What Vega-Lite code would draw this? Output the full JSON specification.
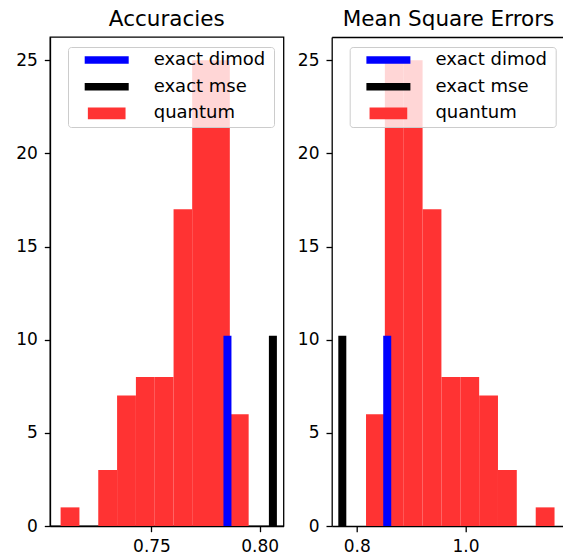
{
  "$schema": "https://vega.github.io/schema/vega-lite/v6.json",
  "autosize": {"type": "none"},
  "padding": {"left": 50, "top": 37, "right": 513, "bottom": 519},
  "background": "white",
  "config": {
    "font": "DejaVu Sans",
    "view": {"stroke": "black", "strokeWidth": 1.3},
    "axis": {"grid": false, "domainColor": "black", "domainWidth": 1.3, "tickColor": "black", "tickWidth": 1.3, "tickSize": 5.7, "labelFont": "DejaVu Sans", "labelFontSize": 17, "labelColor": "black", "labelPadding": 7},
    "title": {"font": "DejaVu Sans", "fontSize": 21.5, "fontWeight": "normal", "color": "black", "anchor": "middle", "baseline": "alphabetic", "offset": 7},
    "legend": {"orient": "top-right", "offset": 10, "padding": 4, "rowPadding": 8.7, "fillColor": "rgba(255,255,255,0.8)", "strokeColor": "#cccccc", "cornerRadius": 3, "labelFont": "DejaVu Sans", "labelFontSize": 18, "labelColor": "black", "labelOffset": 38, "labelLimit": 300, "symbolSize": 16, "symbolStrokeWidth": 0, "symbolOffset": 25.7, "symbolType": "M-11,-1.85H11V1.85H-11Z", "titleOrient": "right", "titleFontSize": 1, "titleOpacity": 0, "titlePadding": 5}
  },
  "datasets": {
    "acc_hist": [
      {"series": "quantum", "bin_start": 0.7080, "bin_end": 0.7167, "count": 1},
      {"series": "quantum", "bin_start": 0.7167, "bin_end": 0.7254, "count": 0},
      {"series": "quantum", "bin_start": 0.7254, "bin_end": 0.7341, "count": 3},
      {"series": "quantum", "bin_start": 0.7341, "bin_end": 0.7428, "count": 7},
      {"series": "quantum", "bin_start": 0.7428, "bin_end": 0.7515, "count": 8},
      {"series": "quantum", "bin_start": 0.7515, "bin_end": 0.7602, "count": 8},
      {"series": "quantum", "bin_start": 0.7602, "bin_end": 0.7688, "count": 17},
      {"series": "quantum", "bin_start": 0.7688, "bin_end": 0.7775, "count": 25},
      {"series": "quantum", "bin_start": 0.7775, "bin_end": 0.7862, "count": 25},
      {"series": "quantum", "bin_start": 0.7862, "bin_end": 0.7949, "count": 6}
    ],
    "acc_exact": [
      {"series": "exact dimod", "value": 0.7851, "y_start": 0, "y_end": 10},
      {"series": "exact mse", "value": 0.8061, "y_start": 0, "y_end": 10}
    ],
    "mse_hist": [
      {"series": "quantum", "bin_start": 0.8171, "bin_end": 0.8517, "count": 6},
      {"series": "quantum", "bin_start": 0.8517, "bin_end": 0.8865, "count": 25},
      {"series": "quantum", "bin_start": 0.8865, "bin_end": 0.9211, "count": 25},
      {"series": "quantum", "bin_start": 0.9211, "bin_end": 0.9557, "count": 17},
      {"series": "quantum", "bin_start": 0.9557, "bin_end": 0.9905, "count": 8},
      {"series": "quantum", "bin_start": 0.9905, "bin_end": 1.0251, "count": 8},
      {"series": "quantum", "bin_start": 1.0251, "bin_end": 1.0597, "count": 7},
      {"series": "quantum", "bin_start": 1.0597, "bin_end": 1.0943, "count": 3},
      {"series": "quantum", "bin_start": 1.0943, "bin_end": 1.1291, "count": 0},
      {"series": "quantum", "bin_start": 1.1291, "bin_end": 1.1637, "count": 1}
    ],
    "mse_exact": [
      {"series": "exact dimod", "value": 0.8561, "y_start": 0, "y_end": 10},
      {"series": "exact mse", "value": 0.7735, "y_start": 0, "y_end": 10}
    ]
  },
  "spacing": 11.7,
  "resolve": {"scale": {"x": "independent", "y": "independent", "color": "independent"}, "legend": {"color": "independent"}},
  "hconcat": [
    {
      "width": 233.5,
      "height": 489,
      "title": {"text": "Accuracies"},
      "layer": [
        {
          "data": {"name": "acc_hist"},
          "mark": {"type": "rect"},
          "encoding": {
            "x": {"field": "bin_start", "type": "quantitative", "scale": {"domain": [0.7031, 0.811], "nice": false, "zero": false}, "axis": {"values": [0.75, 0.8], "format": ".2f", "title": null}},
            "x2": {"field": "bin_end"},
            "y": {"field": "count", "type": "quantitative", "scale": {"domain": [0, 26.25], "nice": false}, "axis": {"values": [0, 5, 10, 15, 20, 25], "title": null}},
            "y2": {"datum": 0},
            "color": {
              "field": "series", "type": "nominal",
              "scale": {"domain": ["exact dimod", "exact mse", "quantum"], "range": ["#0000ff", "#000000", "#ff3333"]},
              "legend": {
                "title": "\u00a0",
                "encode": {"symbols": {"update": {
                  "shape": {"signal": "datum.value === 'quantum' ? 'M-11,0M11,0M-9.42,-2.92H9.42V2.92H-9.42Z' : 'M-11,-1.85H11V1.85H-11Z'"},
                  "fill": {"signal": "datum.value === 'exact dimod' ? '#0000ff' : datum.value === 'exact mse' ? '#000000' : '#ff3333'"},
                  "stroke": {"value": "transparent"},
                  "strokeWidth": {"value": 0},
                  "size": {"value": 16},
                  "opacity": {"value": 1}
                }}}
              }
            }
          }
        },
        {
          "data": {"name": "acc_exact"},
          "mark": {"type": "rule", "strokeWidth": 8, "strokeCap": "square", "clip": true},
          "encoding": {
            "x": {"field": "value", "type": "quantitative"},
            "y": {"field": "y_start", "type": "quantitative"},
            "y2": {"field": "y_end"},
            "color": {"field": "series", "type": "nominal"}
          }
        }
      ]
    },
    {
      "width": 233.5,
      "height": 489,
      "title": {"text": "Mean Square Errors"},
      "view": {"stroke": null},
      "resolve": {"axis": {"x": "independent"}},
      "layer": [
        {
          "data": {"name": "mse_hist"},
          "mark": {"type": "rect"},
          "encoding": {
            "x": {"field": "bin_start", "type": "quantitative", "scale": {"domain": [0.754, 1.1833], "nice": false, "zero": false}, "axis": {"values": [0.8, 1.0], "format": ".1f", "title": null}},
            "x2": {"field": "bin_end"},
            "y": {"field": "count", "type": "quantitative", "scale": {"domain": [0, 26.25], "nice": false}, "axis": {"values": [0, 5, 10, 15, 20, 25], "title": null}},
            "y2": {"datum": 0},
            "color": {
              "field": "series", "type": "nominal",
              "scale": {"domain": ["exact dimod", "exact mse", "quantum"], "range": ["#0000ff", "#000000", "#ff3333"]},
              "legend": {
                "title": "\u00a0",
                "encode": {"symbols": {"update": {
                  "shape": {"signal": "datum.value === 'quantum' ? 'M-11,0M11,0M-9.42,-2.92H9.42V2.92H-9.42Z' : 'M-11,-1.85H11V1.85H-11Z'"},
                  "fill": {"signal": "datum.value === 'exact dimod' ? '#0000ff' : datum.value === 'exact mse' ? '#000000' : '#ff3333'"},
                  "stroke": {"value": "transparent"},
                  "strokeWidth": {"value": 0},
                  "size": {"value": 16},
                  "opacity": {"value": 1}
                }}}
              }
            }
          }
        },
        {
          "data": {"name": "mse_exact"},
          "mark": {"type": "rule", "strokeWidth": 8, "strokeCap": "square", "clip": true},
          "encoding": {
            "x": {"field": "value", "type": "quantitative", "axis": {"orient": "top", "labels": false, "ticks": false, "domain": true, "title": null}},
            "y": {"field": "y_start", "type": "quantitative"},
            "y2": {"field": "y_end"},
            "color": {"field": "series", "type": "nominal"}
          }
        }
      ]
    }
  ]
}
